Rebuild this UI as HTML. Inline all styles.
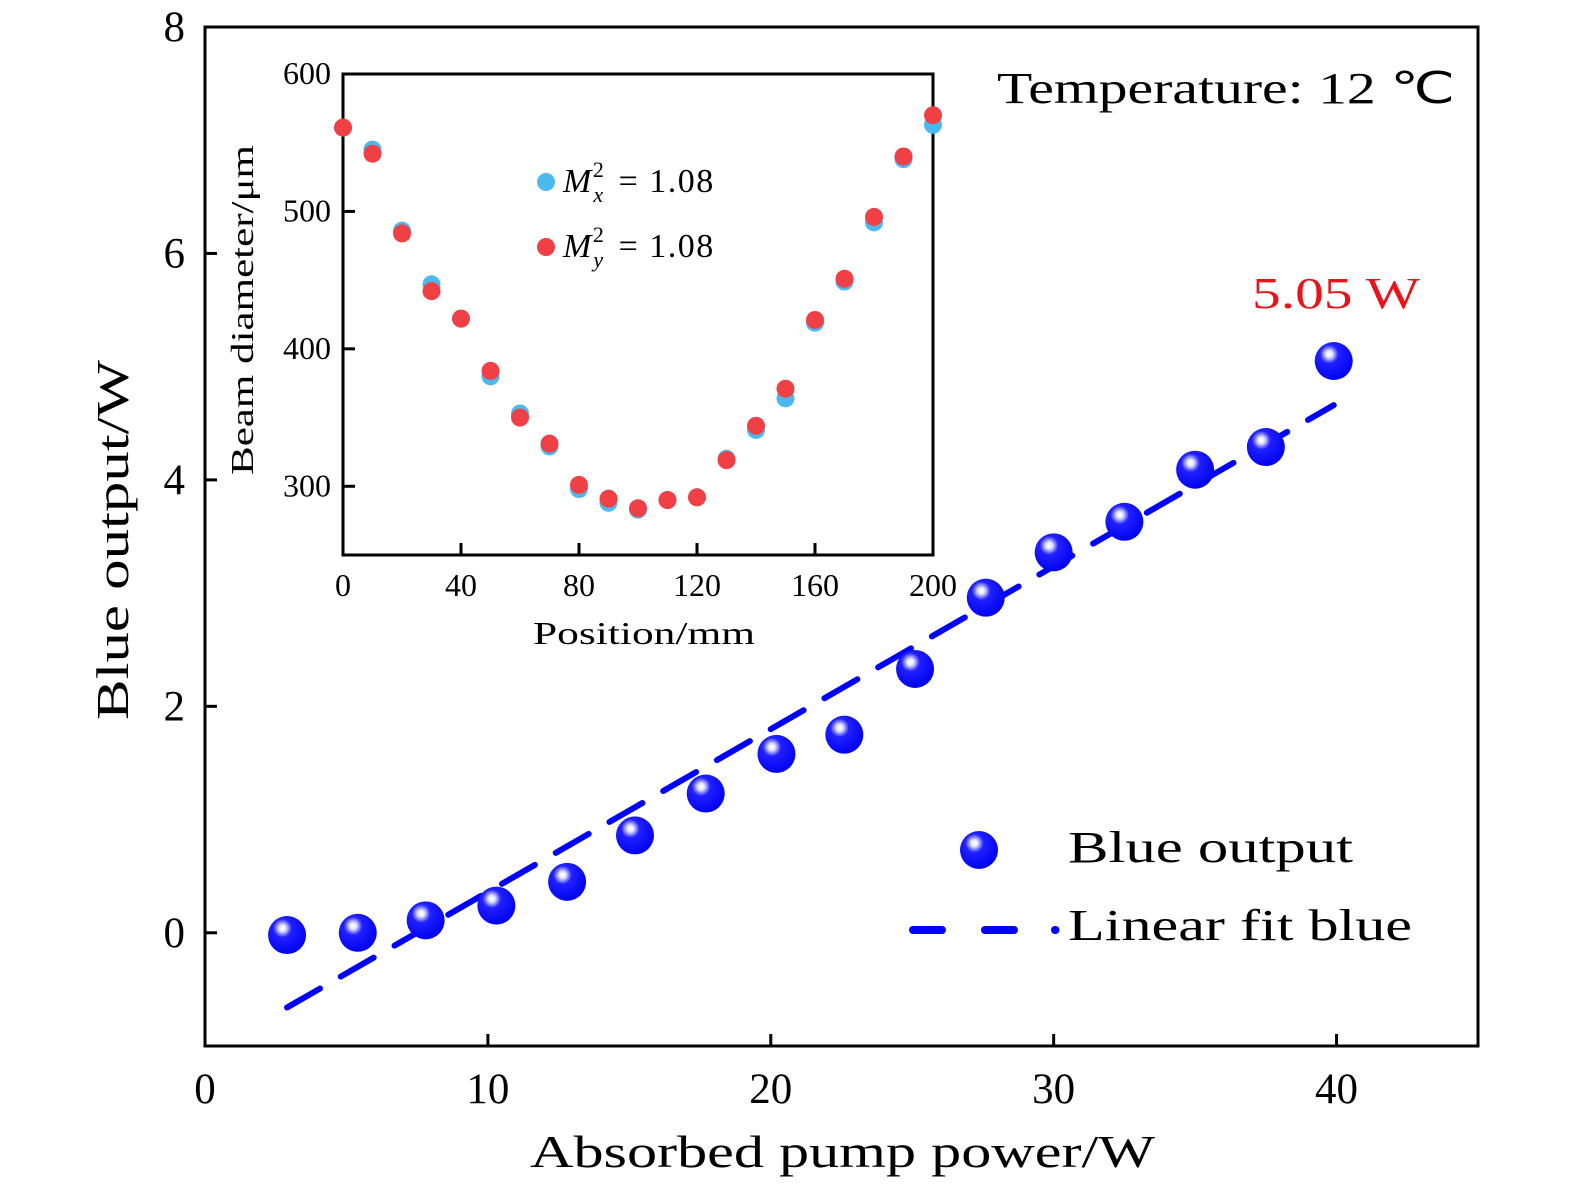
<!DOCTYPE html>
<html><head><meta charset="utf-8"><style>
html,body{margin:0;padding:0;background:#fff;}
svg text{font-family:"Liberation Serif",serif;}
</style></head><body>
<svg id="chart" width="1575" height="1195" xmlns="http://www.w3.org/2000/svg">
<defs>
<radialGradient id="sph" cx="0.38" cy="0.32" r="0.7">
<stop offset="0" stop-color="#ffffff"/>
<stop offset="0.12" stop-color="#e8e8ff"/>
<stop offset="0.22" stop-color="#8f8fff"/>
<stop offset="0.35" stop-color="#2020ff"/>
<stop offset="1" stop-color="#0000f0"/>
</radialGradient>
</defs>
<g id="main"></g>
<g id="inset"></g>
</svg>
<script>
const mainX = [2.9,5.4,7.8,10.3,12.8,15.2,17.7,20.2,22.6,25.1,27.6,30.0,32.5,35.0,37.5,39.9];
const mainY = [-0.02,0.0,0.11,0.24,0.45,0.86,1.23,1.58,1.75,2.33,2.96,3.36,3.63,4.09,4.29,5.05];
const fitX = [2.9,39.9];
const fitY = [-0.66,4.66];
const mainXTicks = [0,10,20,30,40];
const mainYTicks = [0,2,4,6,8];
const insetPos = [0,10,20,30,40,50,60,70,80,90,100,110,120,130,140,150,160,170,180,190,200];
const insetMx = [561,545,486,447,422,380,353,329,298,288,283,290,292,320,341,364,419,449,492,538,563];
const insetMy = [561,542,484,442,422,384,350,331,301,291,284,290,292,319,344,371,421,451,496,540,570];
const insetXTicks = [0,40,80,120,160,200];
const insetYTicks = [300,400,500,600];

const NS="http://www.w3.org/2000/svg";
function mk(tag,attrs,parent,txt){const e=document.createElementNS(NS,tag);for(const k in attrs)e.setAttribute(k,attrs[k]);if(txt!==undefined)e.textContent=txt;parent.appendChild(e);return e;}
const main=document.getElementById('main'), inset=document.getElementById('inset');
const L=205,R=1478,T=27,B=1046;
const mx=v=>L+(v-0)*(R-L)/45;
const my=v=>B-(v+1)*(B-T)/9;
const SG='spacingAndGlyphs';
let e;
e=mk('rect',{x:L,y:T,width:R-L,height:B-T,fill:'none',stroke:'#000','stroke-width':3},main);


mainXTicks.forEach(v=>{
 e=mk('line',{x1:mx(v),x2:mx(v),y1:B,y2:B-12,stroke:'#000','stroke-width':3},main);
 
 
 e=mk('text',{x:mx(v),y:B+57,'font-size':43,'text-anchor':'middle'},main,String(v));
 
 
});
mainYTicks.forEach(v=>{
 e=mk('line',{x1:L,x2:L+12,y1:my(v),y2:my(v),stroke:'#000','stroke-width':3},main);
 
 
 e=mk('text',{x:L-20,y:my(v)+14,'font-size':43,'text-anchor':'end'},main,String(v));
 
 
});
e=mk('text',{x:530,y:1167,'font-size':46,textLength:625,lengthAdjust:SG},main,'Absorbed pump power/W');


e=mk('text',{x:0,y:0,'font-size':46,textLength:360,lengthAdjust:SG,transform:'translate(128,720) rotate(-90)'},main,'Blue output/W');


e=mk('line',{x1:mx(fitX[0]),y1:my(fitY[0]),x2:mx(fitX[1]),y2:my(fitY[1]),stroke:'#0000ff','stroke-width':6,'stroke-dasharray':'38 24','stroke-linecap':'round'},main);


mainX.forEach((v,i)=>{
 e=mk('circle',{cx:mx(v),cy:my(mainY[i]),r:19,fill:'url(#sph)'},main);
 
 
});
e=mk('text',{x:997,y:103,'font-size':44,textLength:458,lengthAdjust:SG},main,'Temperature: 12 ℃');


e=mk('text',{x:1252,y:308,'font-size':44,fill:'#e8141a',textLength:168,lengthAdjust:SG},main,'5.05 W');


e=mk('circle',{cx:979,cy:850,r:19,fill:'url(#sph)'},main);


e=mk('text',{x:1068,y:862,'font-size':44,textLength:285,lengthAdjust:SG},main,'Blue output');


const lg=mk('g',{stroke:'#0000ff','stroke-width':8,'stroke-linecap':'round'},main);


mk('line',{x1:913,y1:930,x2:942,y2:930},lg);
mk('line',{x1:985,y1:930,x2:1014,y2:930},lg);
mk('line',{x1:1055,y1:930,x2:1055.5,y2:930},lg);
e=mk('text',{x:1068,y:940,'font-size':44,textLength:344,lengthAdjust:SG},main,'Linear fit blue');


const iL=343,iR=933,iT=74,iB=555;
const ix=v=>iL+v*(iR-iL)/200;
const iy=v=>iB-(v-250)*(iB-iT)/350;
e=mk('rect',{x:iL,y:iT,width:iR-iL,height:iB-iT,fill:'#fff',stroke:'#000','stroke-width':3},inset);


insetXTicks.forEach(v=>{
 e=mk('line',{x1:ix(v),x2:ix(v),y1:iB,y2:iB-12,stroke:'#000','stroke-width':3},inset);
 
 
 e=mk('text',{x:ix(v),y:iB+41,'font-size':32,'text-anchor':'middle'},inset,String(v));
 
 
});
insetYTicks.forEach(v=>{
 e=mk('line',{x1:iL,x2:iL+12,y1:iy(v),y2:iy(v),stroke:'#000','stroke-width':3},inset);
 
 
 e=mk('text',{x:iL-12,y:iy(v)+10,'font-size':32,'text-anchor':'end'},inset,String(v));
 
 
});
e=mk('text',{x:533,y:644,'font-size':32,textLength:222,lengthAdjust:SG},inset,'Position/mm');


e=mk('text',{x:0,y:0,'font-size':32,textLength:330,lengthAdjust:SG,transform:'translate(253,475) rotate(-90)'},inset,'Beam diameter/μm');


insetPos.forEach((p,i)=>{
 e=mk('circle',{cx:ix(p),cy:iy(insetMx[i]),r:9,fill:'#4db8f0'},inset);
 
 
});
insetPos.forEach((p,i)=>{
 e=mk('circle',{cx:ix(p),cy:iy(insetMy[i]),r:9,fill:'#f04045'},inset);
 
 
});
e=mk('circle',{cx:546,cy:182,r:9,fill:'#4db8f0'},inset);


e=mk('circle',{cx:546,cy:247,r:9,fill:'#f04045'},inset);


[['x',192],['y',257]].forEach(([s,y])=>{
 const t=mk('text',{x:563,y:y,'font-size':34,'letter-spacing':1.5},inset);
 
 
 mk('tspan',{'font-style':'italic'},t,'M');
 mk('tspan',{'font-size':22,dy:-15},t,'2');
 mk('tspan',{'font-size':22,'font-style':'italic',dx:-12,dy:25},t,s);
 mk('tspan',{dy:-10,dx:4},t,' = 1.08');
});
</script>
</body></html>
